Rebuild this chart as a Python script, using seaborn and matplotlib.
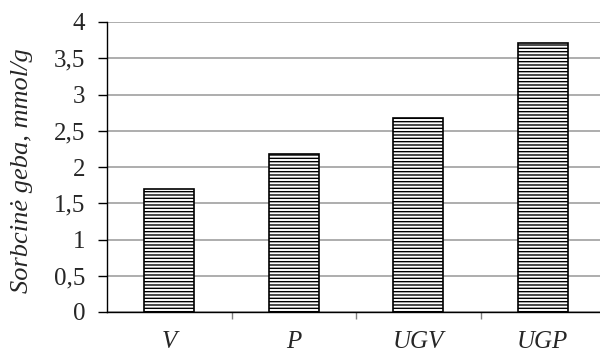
import matplotlib
matplotlib.use("Agg")
import matplotlib.pyplot as plt
import seaborn as sns
import pandas as pd
from matplotlib.ticker import FuncFormatter, FixedLocator

categories = ["V", "P", "UGV", "UGP"]
values = [1.70, 2.18, 2.67, 3.71]

sns.set_style("white")
plt.rcParams['font.family'] = ['Liberation Serif', 'DejaVu Serif']
plt.rcParams['hatch.linewidth'] = 1.0

df = pd.DataFrame({"cat": categories, "val": values})

fig = plt.figure(figsize=(6.0, 3.54), dpi=100)
ax = fig.add_axes([107/600, 1-312/354, 498/600, 290/354])

sns.barplot(data=df, x="cat", y="val", color="white", edgecolor="black",
            linewidth=1.2, width=0.4, ax=ax, zorder=3)
for p in ax.patches:
    p.set_hatch("-----")
    p.set_zorder(3)

ax.set_xlim(-0.5, 3.5)
ax.set_ylim(0, 4)
ax.set_yticks([0, 0.5, 1, 1.5, 2, 2.5, 3, 3.5, 4])
ax.yaxis.set_major_formatter(FuncFormatter(lambda v, p: ("%g" % v).replace(".", ",")))
ax.grid(axis="y", color="#a0a0a0", linewidth=1.2, zorder=0)
ax.set_axisbelow(True)

for s in ["top", "right"]:
    ax.spines[s].set_visible(False)
ax.spines["left"].set_color("black")
ax.spines["bottom"].set_color("black")
ax.spines["left"].set_linewidth(1.0)
ax.spines["bottom"].set_linewidth(1.0)

ax.tick_params(axis="y", which="major", direction="out", length=6.5, width=1,
               color="black", labelsize=18, pad=9, left=True)
ax.tick_params(axis="x", which="major", length=0, labelsize=18, pad=14)
ax.xaxis.set_minor_locator(FixedLocator([0.5, 1.5, 2.5]))
ax.tick_params(axis="x", which="minor", direction="out", length=5, width=1,
               color="#808080", bottom=True)
for lbl in ax.get_xticklabels():
    lbl.set_fontstyle("italic")

ax.set_xlabel("")
ax.set_ylabel("Sorbcinė geba, mmol/g", fontsize=19, fontstyle="italic")
ax.yaxis.set_label_coords(-74/498, (312-171)/290)

fig.savefig("out.png", dpi=100)
